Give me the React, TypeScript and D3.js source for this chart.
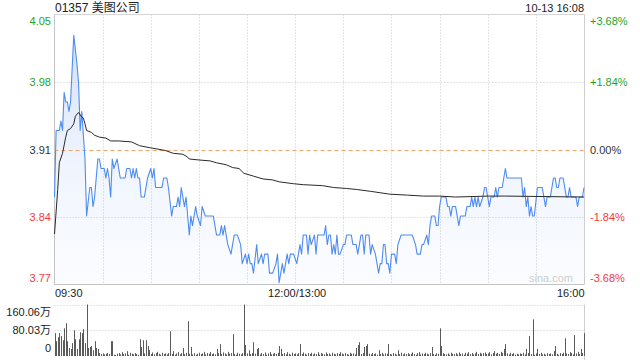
import React from 'react';
import * as d3 from 'd3';

const title = '01357 美图公司';
const stamp = '10-13 16:08';
const prevClose = 3.91;
const halfRange = 0.142;
const leftTickLabels = ['4.05', '3.98', '3.91', '3.84', '3.77'];
const rightTickLabels = ['+3.68%', '+1.84%', '0.00%', '-1.84%', '-3.68%'];
const timeLabels = ['09:30', '12:00/13:00', '16:00'];
const timeLabelMinutes = [0, 150, 330];
const volTickLabels = ['160.06万', '80.03万', '0'];
const volMax = 160.06;
const totalMinutes = 330;

// [minute of session, price]
const pricePoints: [number, number][] = [
  [0, 3.86], [1, 3.93], [3, 3.93], [4, 3.94], [5, 3.93], [6, 3.97], [7, 3.96], [8, 3.96], [9, 3.95], [10, 3.96],
  [12, 4.03], [14, 4.0], [15, 3.98], [16, 3.93], [17, 3.95], [19, 3.9], [20, 3.84], [22, 3.87], [23, 3.87], [24, 3.85],
  [25, 3.86], [27, 3.9], [28, 3.9], [29, 3.89], [31, 3.89], [32, 3.88], [33, 3.89], [34, 3.88], [35, 3.86], [36, 3.9],
  [37, 3.89], [39, 3.9], [41, 3.88], [44, 3.88], [45, 3.89], [47, 3.89], [48, 3.88], [49, 3.89], [50, 3.88], [51, 3.89],
  [52, 3.88], [53, 3.88], [54, 3.86], [56, 3.86], [58, 3.88], [60, 3.89], [61, 3.88], [62, 3.89], [63, 3.87], [67, 3.87],
  [68, 3.88], [70, 3.88], [71, 3.87], [73, 3.84], [74, 3.85], [76, 3.85], [77, 3.86], [78, 3.85], [79, 3.87], [80, 3.86],
  [81, 3.85], [82, 3.86], [84, 3.82], [85, 3.84], [86, 3.83], [88, 3.85], [89, 3.84], [91, 3.83], [92, 3.85], [94, 3.84],
  [99, 3.84], [100, 3.83], [101, 3.82], [103, 3.82], [104, 3.83], [105, 3.82], [106, 3.83], [108, 3.81], [110, 3.8], [112, 3.82],
  [114, 3.82], [116, 3.81], [117, 3.79], [119, 3.8], [120, 3.79], [121, 3.8], [122, 3.79], [123, 3.79], [124, 3.78], [126, 3.81],
  [127, 3.79], [129, 3.8], [130, 3.79], [131, 3.8], [133, 3.8], [134, 3.78], [136, 3.78], [138, 3.79], [139, 3.8], [140, 3.77],
  [142, 3.79], [143, 3.78], [145, 3.8], [146, 3.79], [147, 3.8], [149, 3.8], [151, 3.79], [152, 3.8], [153, 3.81], [154, 3.8],
  [155, 3.82], [157, 3.82], [158, 3.8], [159, 3.82], [160, 3.81], [162, 3.82], [163, 3.8], [164, 3.82], [168, 3.82], [169, 3.83],
  [170, 3.81], [171, 3.82], [172, 3.82], [173, 3.8], [174, 3.81], [175, 3.8], [176, 3.82], [177, 3.8], [178, 3.8], [180, 3.81],
  [181, 3.81], [182, 3.82], [185, 3.82], [186, 3.81], [188, 3.81], [189, 3.8], [191, 3.82], [192, 3.82], [193, 3.8], [194, 3.82],
  [196, 3.82], [197, 3.8], [198, 3.81], [200, 3.8], [201, 3.79], [202, 3.78], [203, 3.79], [204, 3.79], [205, 3.81], [206, 3.81],
  [207, 3.79], [208, 3.79], [209, 3.78], [210, 3.8], [212, 3.8], [213, 3.79], [214, 3.81], [216, 3.82], [223, 3.82], [225, 3.81],
  [226, 3.8], [228, 3.8], [229, 3.81], [230, 3.81], [232, 3.82], [233, 3.81], [234, 3.83], [235, 3.84], [237, 3.84], [238, 3.83],
  [239, 3.83], [240, 3.85], [241, 3.86], [244, 3.86], [245, 3.85], [246, 3.85], [247, 3.84], [248, 3.85], [250, 3.85], [251, 3.84],
  [252, 3.83], [253, 3.84], [256, 3.84], [257, 3.85], [259, 3.85], [260, 3.86], [261, 3.85], [262, 3.86], [263, 3.85], [264, 3.86],
  [265, 3.85], [267, 3.86], [268, 3.87], [269, 3.87], [270, 3.86], [271, 3.85], [272, 3.86], [274, 3.86], [275, 3.87], [276, 3.86],
  [277, 3.87], [279, 3.87], [280, 3.88], [281, 3.89], [282, 3.88], [291, 3.88], [292, 3.86], [293, 3.87], [294, 3.85], [295, 3.86],
  [296, 3.84], [297, 3.85], [298, 3.84], [299, 3.84], [301, 3.87], [304, 3.87], [305, 3.86], [306, 3.85], [307, 3.86], [309, 3.86],
  [310, 3.87], [311, 3.88], [312, 3.88], [313, 3.87], [314, 3.87], [315, 3.88], [317, 3.88], [318, 3.87], [319, 3.86], [320, 3.86],
  [321, 3.87], [322, 3.86], [325, 3.86], [326, 3.85], [327, 3.86], [329, 3.86], [330, 3.87],
];

// [minute of session, average price]
const avgPoints: [number, number][] = [
  [0, 3.821], [2, 3.868], [3, 3.896], [5, 3.906], [7, 3.923], [8, 3.93], [10, 3.932], [12, 3.937], [13, 3.945], [15, 3.949],
  [17, 3.944], [18, 3.943], [19, 3.937], [20, 3.93], [23, 3.928], [25, 3.925], [28, 3.923], [32, 3.922], [35, 3.919], [40, 3.919],
  [48, 3.918], [53, 3.914], [59, 3.912], [69, 3.909], [74, 3.906], [80, 3.905], [83, 3.902], [84, 3.9], [90, 3.899], [97, 3.898],
  [101, 3.896], [107, 3.894], [111, 3.891], [115, 3.89], [118, 3.885], [124, 3.882], [130, 3.879], [136, 3.878], [140, 3.876],
  [149, 3.874], [155, 3.873], [167, 3.872], [174, 3.87], [182, 3.869], [188, 3.868], [197, 3.866], [209, 3.863], [220, 3.862],
  [230, 3.861], [240, 3.861], [250, 3.86], [270, 3.861], [281, 3.861], [330, 3.86],
];

// volume per minute, in 万 shares
const volumes: number[] = [
  71, 46, 58, 71, 62, 49, 86, 102, 46, 25,
  22, 40, 80, 52, 22, 52, 74, 71, 83, 40,
  160.06, 25, 28, 31, 18, 46, 25, 22, 9, 6,
  8, 5, 7, 9, 6, 46, 46, 4, 3, 7,
  9, 5, 12, 6, 8, 15, 4, 10, 7, 5,
  9, 6, 4, 52, 28, 49, 8, 49, 31, 18,
  6, 11, 5, 9, 13, 7, 4, 10, 6, 8,
  5, 9, 77, 6, 15, 4, 8, 12, 5, 9,
  25, 6, 10, 108, 7, 28, 5, 9, 4, 7,
  10, 6, 8, 13, 5, 9, 7, 12, 6, 8,
  5, 22, 9, 37, 6, 11, 8, 5, 13, 7,
  9, 68, 6, 4, 10, 7, 5, 9, 160, 34,
  8, 18, 6, 9, 43, 7, 22, 25, 5, 9,
  6, 11, 4, 8, 12, 5, 7, 9, 6, 10,
  31, 22, 6, 9, 5, 12, 7, 4, 10, 6,
  8, 5, 9, 37, 6, 11, 7, 4, 9, 6,
  10, 5, 8, 6, 12, 4, 9, 7, 5, 11,
  6, 8, 4, 10, 7, 5, 9, 6, 12, 8,
  5, 9, 6, 4, 10, 7, 8, 5, 25, 34,
  43, 6, 9, 28, 31, 37, 7, 5, 9, 6,
  8, 4, 18, 6, 10, 5, 8, 7, 37, 6,
  5, 9, 7, 4, 18, 6, 10, 5, 8, 6,
  9, 5, 7, 11, 6, 4, 9, 12, 5, 8,
  6, 10, 7, 5, 9, 28, 6, 4, 8, 7,
  86, 31, 9, 6, 5, 8, 4, 10, 7, 6,
  9, 5, 11, 6, 8, 4, 10, 7, 12, 6,
  9, 5, 8, 13, 6, 10, 7, 9, 11, 6,
  8, 12, 5, 9, 15, 7, 10, 6, 13, 9,
  22, 37, 8, 5, 10, 6, 9, 4, 7, 5,
  8, 6, 10, 5, 22, 9, 62, 6, 114, 4,
  8, 22, 6, 10, 5, 7, 4, 9, 6, 8,
  5, 15, 31, 7, 4, 9, 6, 10, 55, 8,
  6, 12, 9, 5, 65, 8, 13, 6, 22, 9,
  71,
];

const GREEN = '#1ea51e';
const RED = '#f03c3c';
const DARK = '#333333';
const FONT = '"Liberation Sans", Arial, "Noto Sans CJK SC", sans-serif';

export default function App() {
  const W = 640;
  const H = 360;
  const left = 54.5;
  const right = 584.5;
  const top = 14.5;
  const bottom = 284.5;
  const volTop = 304.5;
  const volBottom = 356;

  const x = d3.scaleLinear().domain([0, totalMinutes]).range([left, right - 0.5]);
  const y = d3.scaleLinear().domain([prevClose - halfRange, prevClose + halfRange]).range([bottom, top]);
  const yv = d3.scaleLinear().domain([0, volMax]).range([volBottom, volTop]);

  const tickVals = d3.range(5).map((i) => prevClose + halfRange - (i * 2 * halfRange) / 4);
  const tickColors = [GREEN, GREEN, DARK, RED, RED];
  const volTickVals = [volMax, volMax / 2, 0];

  const line = d3.line<[number, number]>().x((d) => x(d[0])).y((d) => y(d[1]));
  const area = d3
    .area<[number, number]>()
    .x((d) => x(d[0]))
    .y0(bottom)
    .y1((d) => y(d[1]));

  const gridMinutes = d3.range(30, totalMinutes, 30);

  const labelBaseline = (py: number, i: number, n: number) => (i === 0 ? py + 10 : i === n - 1 ? py - 2.5 : py + 4);

  return (
    <svg width={W} height={H} style={{ position: 'absolute', left: 0, top: 0, background: '#fff' }} fontFamily={FONT}>
      <defs>
        <linearGradient id="pfill" gradientUnits="userSpaceOnUse" x1="0" y1={top} x2="0" y2={bottom}>
          <stop offset="0" stopColor="#5b8ff0" stopOpacity="0.32" />
          <stop offset="0.5" stopColor="#8fb2f2" stopOpacity="0.16" />
          <stop offset="1" stopColor="#c8d8f8" stopOpacity="0.08" />
        </linearGradient>
      </defs>

      {/* title */}
      <text x={55} y={11.5} fontSize={12} fill="#222">{title}</text>
      <text x={584} y={11.5} fontSize={11} fill="#222" textAnchor="end">{stamp}</text>

      {/* area */}
      <path d={area(pricePoints) || ''} fill="url(#pfill)" stroke="none" />

      {/* vertical grid */}
      {gridMinutes.map((m) => (
        <line key={'vg' + m} x1={Math.round(x(m)) + 0.5} x2={Math.round(x(m)) + 0.5} y1={top} y2={bottom} stroke="#c8c8c8" strokeDasharray="1,2" />
      ))}
      {/* horizontal grid */}
      {tickVals.map((v, i) =>
        i === 1 || i === 3 ? (
          <line key={'hg' + i} x1={left} x2={right} y1={Math.round(y(v)) + 0.5} y2={Math.round(y(v)) + 0.5} stroke="#c8c8c8" strokeDasharray="1,2" />
        ) : null
      )}
      {/* prev close */}
      <line x1={left} x2={right} y1={Math.round(y(prevClose)) + 0.5} y2={Math.round(y(prevClose)) + 0.5} stroke="#f2a46c" strokeDasharray="4,3" />

      {/* frame */}
      <line x1={left} x2={right} y1={top} y2={top} stroke="#d6d6d6" />
      <line x1={left} x2={left} y1={top} y2={bottom} stroke="#c4c4c4" />
      <line x1={right} x2={right} y1={top} y2={bottom} stroke="#cfcfcf" />
      <line x1={left} x2={right} y1={bottom} y2={bottom} stroke="#c4c4c4" />

      {/* watermark */}
      <text x={573} y={282} fontSize={11} fill="#cfcfcf" textAnchor="end">sina.com</text>

      {/* price line */}
      <path d={line(pricePoints) || ''} fill="none" stroke="#4f8cf0" strokeWidth={1.1} strokeLinejoin="round" />
      {/* average line */}
      <path d={line(avgPoints) || ''} fill="none" stroke="#2a2a2a" strokeWidth={1} />

      {/* left labels */}
      {tickVals.map((v, i) => (
        <text key={'ll' + i} x={51} y={labelBaseline(y(v), i, 5)} fontSize={11} fill={tickColors[i]} textAnchor="end">
          {leftTickLabels[i]}
        </text>
      ))}
      {/* right labels */}
      {tickVals.map((v, i) => (
        <text key={'rl' + i} x={590} y={labelBaseline(y(v), i, 5)} fontSize={11} fill={tickColors[i]}>
          {rightTickLabels[i]}
        </text>
      ))}

      {/* time labels */}
      {timeLabels.map((t, i) => (
        <text
          key={'tl' + i}
          x={i === 0 ? 55 : i === timeLabels.length - 1 ? 584.5 : x(timeLabelMinutes[i]) + 2}
          y={297}
          fontSize={11}
          fill="#222"
          textAnchor={i === 0 ? 'start' : i === timeLabels.length - 1 ? 'end' : 'middle'}
        >
          {t}
        </text>
      ))}

      {/* volume panel */}
      {volTickVals.slice(0, 2).map((v, i) => (
        <line key={'vgl' + i} x1={left} x2={right} y1={Math.round(yv(v)) + 0.5} y2={Math.round(yv(v)) + 0.5} stroke="#c8c8c8" strokeDasharray="1,2" />
      ))}
      <line x1={right} x2={right} y1={volTop} y2={H} stroke="#cfcfcf" />
      {volumes.map((v, i) => {
        const bx = Math.round(x(i));
        const yt = yv(v);
        return <rect key={'vb' + i} x={bx} y={yt} width={1} height={Math.max(0, volBottom - yt)} fill="#5a5a5a" />;
      })}
      {volTickVals.map((v, i) => (
        <text key={'vl' + i} x={51} y={i === 0 ? yv(v) + 11.5 : i === 2 ? yv(v) - 4 : yv(v) + 4} fontSize={11} fill="#222" textAnchor="end">
          {volTickLabels[i]}
        </text>
      ))}
    </svg>
  );
}
